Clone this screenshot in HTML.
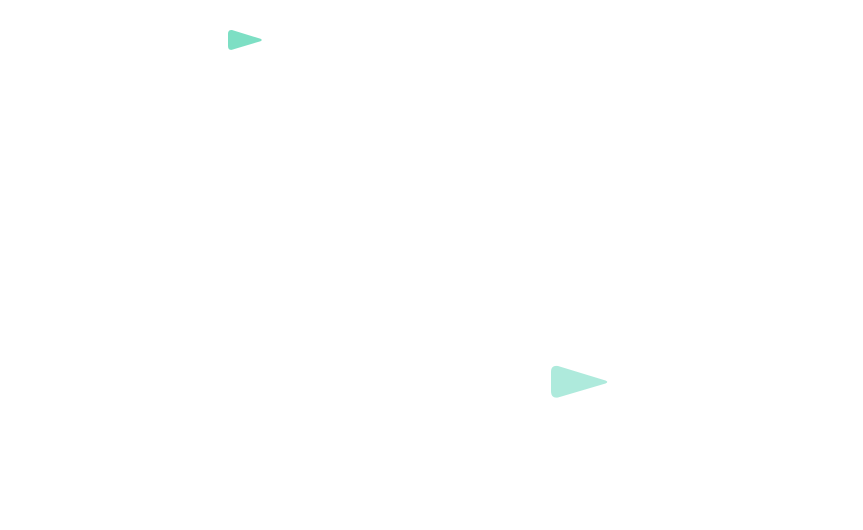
<!DOCTYPE html>
<html><head><meta charset="utf-8"><style>html,body{margin:0;padding:0;background:#fff;width:863px;height:530px;overflow:hidden}</style></head>
<body>
<svg width="863" height="530" viewBox="0 0 863 530" xmlns="http://www.w3.org/2000/svg">
<path d="M232 30 Q228 29.5 228 34 L228 46 Q228 50.5 232 49.8 L260.5 41.2 Q263 40 260.5 38.8 L232 30 Z" fill="#7ddfc4"/>
<path d="M558 366 Q551 365 551 372 L551 391 Q551 398.5 558 397.5 L605.5 383.5 Q609 382 605.5 380.5 L558 366 Z" fill="#aeeadc"/>
</svg>
</body></html>
